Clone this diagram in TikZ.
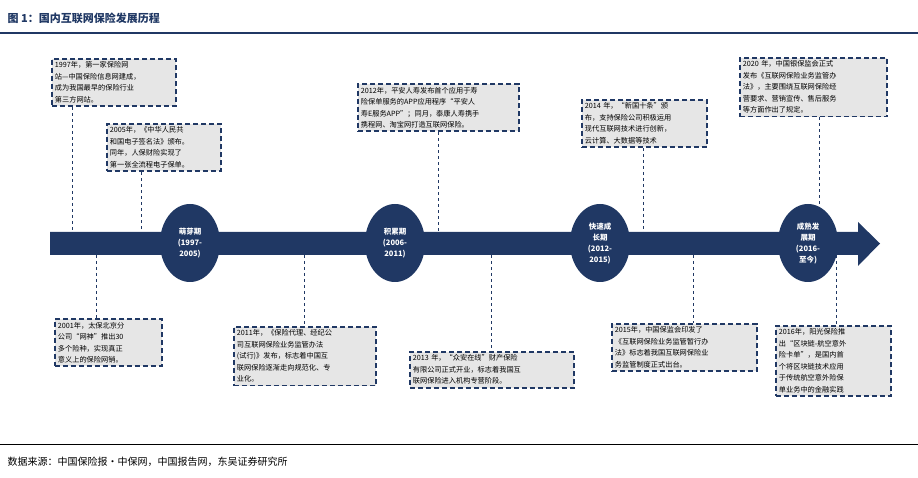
\documentclass[tikz,border=0pt]{standalone}
\usepackage{fontspec}
\newfontfamily\cjk{Noto Sans CJK SC}
\usetikzlibrary{shapes.geometric}
\definecolor{navy}{HTML}{203864}
\definecolor{boxgray}{HTML}{E6E6E6}
\begin{document}
\begin{tikzpicture}[x=1pt,y=-1pt,
    event/.style={draw=navy,line width=1.8pt,dash pattern=on 5pt off 3pt,fill=boxgray,
        anchor=north west,align=left,inner sep=3pt,font=\cjk\fontsize{7.2}{11.5}\selectfont},
    stage/.style={ellipse,fill=navy,text=white,minimum width=60pt,minimum height=78pt,
        inner sep=0pt,align=center,font=\cjk\bfseries\fontsize{7.5}{11}\selectfont},
    link/.style={draw=navy,dashed,line width=0.6pt}]
\useasboundingbox (0,0) rectangle (918,478);
% title and rules
\node[anchor=west,text=navy,font=\cjk\bfseries\fontsize{11}{13}\selectfont] (title) at (4,18) {图 1：国内互联网保险发展历程};
\draw[navy,line width=1.2pt] (0,33) -- (918,33);
\draw[black,line width=0.6pt] (0,444) -- (918,444);
\node[anchor=west,font=\cjk\fontsize{10}{12}\selectfont] (source) at (4,462) {数据来源：中国保险报·中保网，中国报告网，东吴证券研究所};
% timeline
\fill[navy] (50,232) -- (858,232) -- (858,222) -- (880,243.5) -- (858,266) -- (858,255) -- (50,255) -- cycle;
\node[stage] (s1) at (190,243) {萌芽期\\(1997-\\2005)};
\node[stage] (s2) at (395,243) {积累期\\(2006-\\2011)};
\node[stage] (s3) at (600,243) {快速成\\长期\\(2012-\\2015)};
\node[stage] (s4) at (808,243) {成熟发\\展期\\(2016-\\至今)};
% events above
\node[event,text width=118pt] (e1997) at (51,58) {1997年，第一家保险网\\站—中国保险信息网建成，\\成为我国最早的保险行业\\第三方网站。};
\node[event,text width=108pt] (e2005) at (106,123) {2005年，《中华人民共\\和国电子签名法》颁布。\\同年，人保财险实现了\\第一张全流程电子保单。};
\node[event,text width=155pt] (e2012) at (357,83) {2012年，平安人寿发布首个应用于寿\\险保单服务的APP应用程序“平安人\\寿E服务APP”；同月，泰康人寿携手\\携程网、淘宝网打造互联网保险。};
\node[event,text width=119pt] (e2014) at (581,99) {2014 年，“新国十条”颁\\布，支持保险公司积极运用\\现代互联网技术进行创新，\\云计算、大数据等技术};
\node[event,text width=141pt] (e2020) at (739,57) {2020 年，中国银保监会正式\\发布《互联网保险业务监管办\\法》，主要围绕互联网保险经\\营要求、营销宣传、售后服务\\等方面作出了规定。};
% events below
\node[event,text width=101pt] (e2001) at (54,318) {2001年，太保北京分\\公司“网神”推出30\\多个险种，实现真正\\意义上的保险网销。};
\node[event,text width=136pt] (e2011) at (233,326) {2011年，《保险代理、经纪公\\司互联网保险业务监管办法\\(试行)》发布，标志着中国互\\联网保险逐渐走向规范化、专\\业化。};
\node[event,text width=158pt] (e2013) at (409,351) {2013 年，“众安在线”财产保险\\有限公司正式开业，标志着我国互\\联网保险进入机构专营阶段。};
\node[event,text width=139pt] (e2015) at (611,323) {2015年，中国保监会印发了\\《互联网保险业务监管暂行办\\法》标志着我国互联网保险业\\务监管制度正式出台。};
\node[event,text width=109pt] (e2016) at (775,325) {2016年，阳光保险推\\出“区块链-航空意外\\险卡单”，是国内首\\个将区块链技术应用\\于传统航空意外险保\\单业务中的金融实践};
% connectors
\coordinate (t1997) at (72,232);  \draw[link] (e1997.south west -| t1997) -- (t1997);
\coordinate (t2005) at (141,232); \draw[link] (e2005.south west -| t2005) -- (t2005);
\coordinate (t2012) at (438,232); \draw[link] (e2012.south west -| t2012) -- (t2012);
\coordinate (t2014) at (643,232); \draw[link] (e2014.south west -| t2014) -- (t2014);
\coordinate (t2020) at (819,232); \draw[link] (e2020.south west -| t2020) -- (t2020);
\coordinate (t2001) at (96,255);  \draw[link] (t2001) -- (e2001.north west -| t2001);
\coordinate (t2011) at (304,255); \draw[link] (t2011) -- (e2011.north west -| t2011);
\coordinate (t2013) at (491,255); \draw[link] (t2013) -- (e2013.north west -| t2013);
\coordinate (t2015) at (693,255); \draw[link] (t2015) -- (e2015.north west -| t2015);
\coordinate (t2016) at (836,255); \draw[link] (t2016) -- (e2016.north west -| t2016);
\end{tikzpicture}
\end{document}
